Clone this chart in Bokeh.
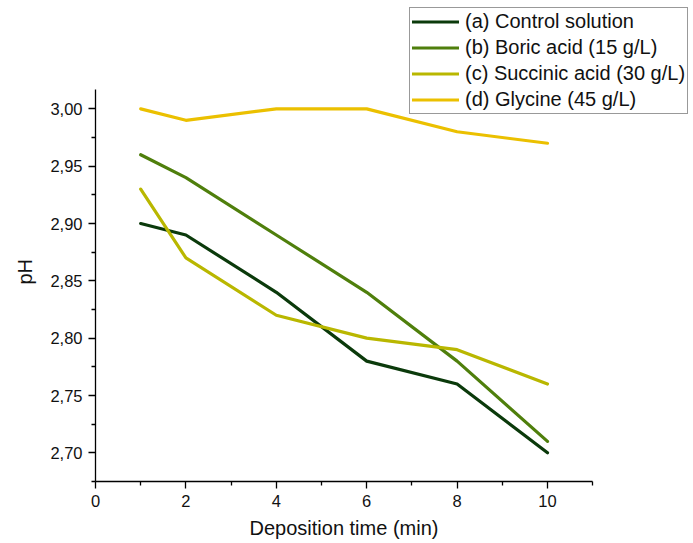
from bokeh.plotting import figure
from bokeh.models import (ColumnDataSource, Legend, LegendItem, Range1d,
                          CustomJSTickFormatter, FixedTicker, Title)
from bokeh.embed import file_html
from bokeh.resources import INLINE

# Deposition time (min)
time_min = [1, 2, 4, 6, 8, 10]

# pH of each bath
ph_control = [2.90, 2.89, 2.84, 2.78, 2.76, 2.70]
ph_boric = [2.96, 2.94, 2.89, 2.84, 2.78, 2.71]
ph_succinic = [2.93, 2.87, 2.82, 2.80, 2.79, 2.76]
ph_glycine = [3.00, 2.99, 3.00, 3.00, 2.98, 2.97]

series_labels = ["(a) Control solution", "(b) Boric acid (15 g/L)",
                 "(c) Succinic acid (30 g/L)", "(d) Glycine (45 g/L)"]
series_colors = ["#0b3a0b", "#4f7f0c", "#b9b700", "#ebc000"]

x_ticks = [0, 2, 4, 6, 8, 10]
x_minor = [1, 3, 5, 7, 9, 11]
y_ticks = [2.70, 2.75, 2.80, 2.85, 2.90, 2.95, 3.00]
y_minor = [2.675, 2.725, 2.775, 2.825, 2.875, 2.925, 2.975]

# drawn extent of the two axes
x_axis_bounds = (0, 11)
y_axis_bounds = (2.675, 3.0165)

FONT = "Liberation Sans"

# The frame reaches the top and right edges so the legend can sit above
# the axes; the axis lines themselves stop at their bounds.
p = figure(width=693, height=543, output_backend="svg", toolbar_location=None,
           x_range=Range1d(0, 13.23), y_range=Range1d(2.675, 3.0945),
           min_border_left=95, min_border_right=0, min_border_top=0,
           min_border_bottom=62)
p.outline_line_color = None
p.xgrid.visible = False
p.ygrid.visible = False
p.background_fill_color = "white"
p.border_fill_color = "white"

renderers = []
for ys, color in zip([ph_control, ph_boric, ph_succinic, ph_glycine], series_colors):
    src = ColumnDataSource(dict(x=time_min, y=ys))
    r = p.line("x", "y", source=src, line_color=color, line_width=3.2,
               line_cap="round", line_join="round")
    renderers.append(r)

# axes
for ax in (p.xaxis[0], p.yaxis[0]):
    ax.axis_line_color = "black"
    ax.axis_line_width = 1.3
    ax.major_tick_line_color = "black"
    ax.minor_tick_line_color = "black"
    ax.major_tick_line_width = 1.3
    ax.minor_tick_line_width = 1.3
    ax.major_tick_in = 0
    ax.major_tick_out = 7
    ax.minor_tick_in = 0
    ax.minor_tick_out = 4
    ax.major_label_text_font = FONT
    ax.major_label_text_font_size = "16.5px"
    ax.major_label_text_color = "#111111"

p.xaxis.bounds = x_axis_bounds
p.yaxis.bounds = y_axis_bounds
p.xaxis.ticker = FixedTicker(ticks=x_ticks, minor_ticks=x_minor)
p.yaxis.ticker = FixedTicker(ticks=y_ticks, minor_ticks=y_minor)
p.yaxis.formatter = CustomJSTickFormatter(code="return tick.toFixed(2).replace('.', ',');")
p.xaxis.major_label_standoff = 6
p.yaxis.major_label_standoff = 6

# axis titles, centred on the drawn axis extent rather than the whole frame
x_title = Title(text="Deposition time (min)", align="left", offset=154,
                text_font=FONT, text_font_size="20px", text_font_style="normal",
                text_color="#111111", vertical_align="bottom", standoff=10)
y_title = Title(text="pH", align="left", offset=197,
                text_font=FONT, text_font_size="20px", text_font_style="normal",
                text_color="#111111", vertical_align="middle", standoff=22)
p.add_layout(x_title, "below")
p.add_layout(y_title, "left")

legend = Legend(
    items=[LegendItem(label=lab, renderers=[r]) for lab, r in zip(series_labels, renderers)],
    location=(314, 367),
    border_line_color="#333333", border_line_width=1,
    background_fill_color="white", background_fill_alpha=1.0,
    label_text_font=FONT, label_text_font_size="20px", label_text_color="#111111",
    glyph_width=47, glyph_height=21, label_height=21, label_standoff=6,
    spacing=3, padding=2, margin=0,
)
p.add_layout(legend, "center")

open("out.html", "w").write(file_html(p, INLINE))
